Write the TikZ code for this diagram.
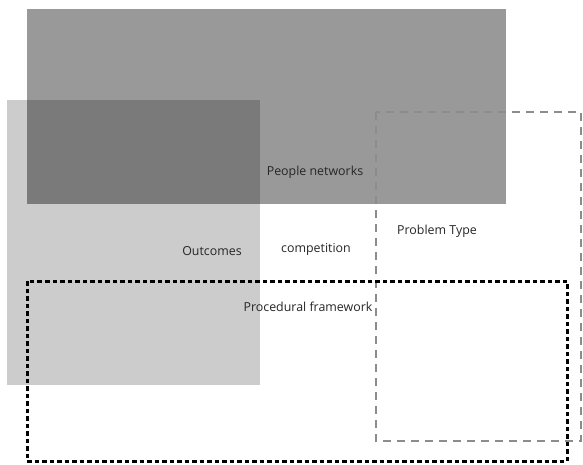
\documentclass[tikz,border=0pt]{standalone}
\usepackage{fontspec}
\setmainfont{Open Sans}
\begin{document}
\begin{tikzpicture}[x=1pt,y=-1pt,
  lbl/.style={font=\fontsize{12.4}{14}\selectfont, text=black!85, inner sep=1pt},
  dotbox/.style={draw=black, line width=3pt, dash pattern=on 4.5pt off 3pt},
  dashbox/.style={draw=black!45, line width=1.3pt, dash pattern=on 8pt off 6pt}]
\useasboundingbox (0,0) rectangle (583,465);
% dark rectangle (People networks)
\fill[fill=black!40] (27,9) rectangle (506,204);
% light rectangle (Outcomes)
\fill[fill=black!20] (7,100) rectangle (260,385);
% overlap
\fill[fill=black!52] (27,100) rectangle (260,204);
% dashed rectangle (Problem Type)
\draw[dashbox] (376,112) rectangle (581,441);
% dotted rectangle (Procedural framework)
\draw[dotbox] (27,281) rectangle (567,461);
% labels
\node[lbl] (people) at (315,172) {People networks};
\node[lbl] (outcomes) at (212,251) {Outcomes};
\node[lbl] (competition) at (316,249) {competition};
\node[lbl] (problem) at (437,231) {Problem Type};
\node[lbl] (procedural) at (308,307) {Procedural framework};
\end{tikzpicture}
\end{document}
